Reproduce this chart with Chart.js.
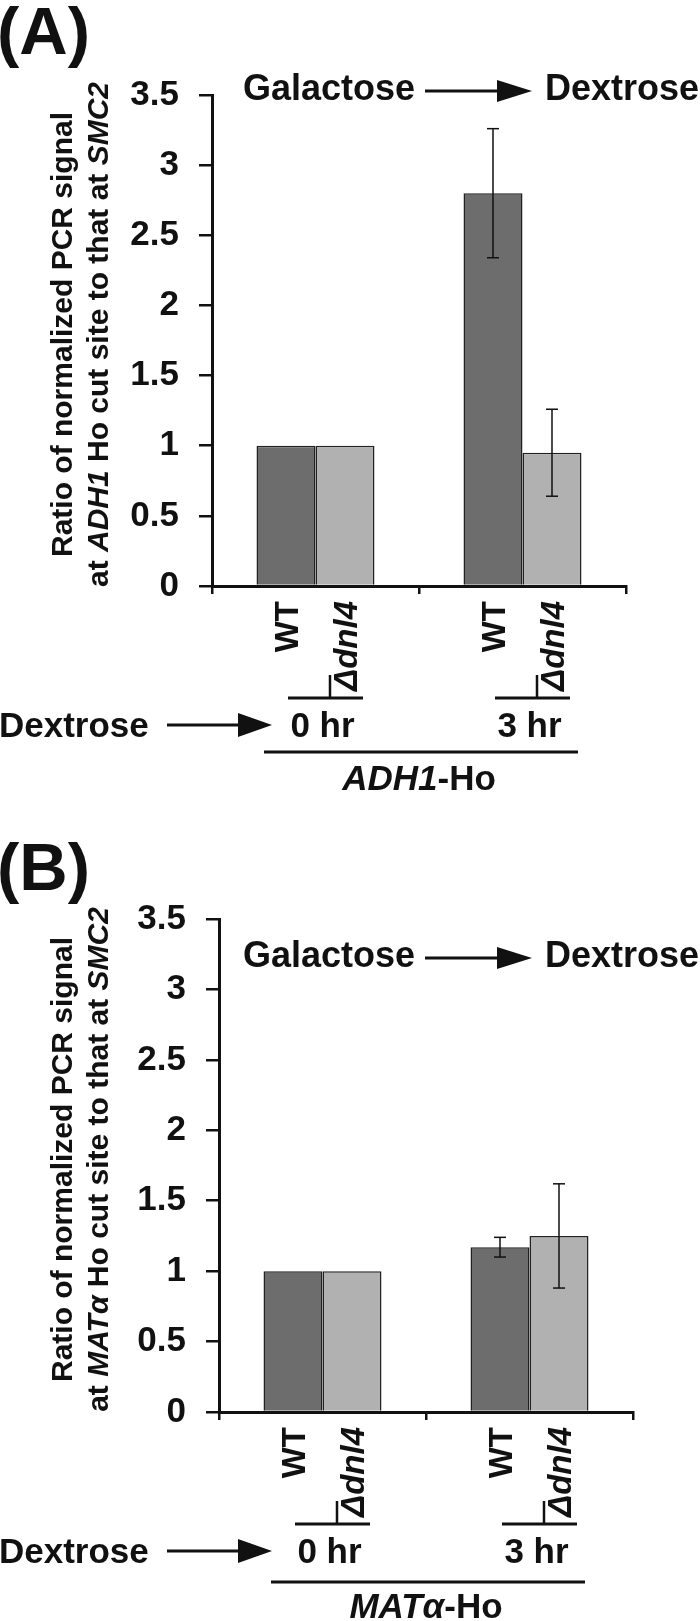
<!DOCTYPE html>
<html>
<head>
<meta charset="utf-8">
<script src="https://cdn.jsdelivr.net/npm/chart.js@4.4.1/dist/chart.umd.min.js"></script>
<style>
  body { margin: 0; background: #fff; }
  canvas { position: absolute; left: 0; }
</style>
</head>
<body>
<canvas id="panelA" width="700" height="810" style="top:0"></canvas>
<canvas id="panelB" width="700" height="811" style="top:810px"></canvas>
<script>
// ---- data ----
const timepoints = ['0 hr', '3 hr'];
const strains = ['WT', 'Δdnl4'];
const strainItalic = [false, true];
const yTickLabels = ['0', '0.5', '1', '1.5', '2', '2.5', '3', '3.5'];
const shiftFrom = 'Galactose';
const shiftTo = 'Dextrose';

const adhWT = [1, 2.8];
const adhWTErr = [0, 0.46];
const adhDnl4 = [1, 0.95];
const adhDnl4Err = [0, 0.31];

const matWT = [1, 1.17];
const matWTErr = [0, 0.07];
const matDnl4 = [1, 1.25];
const matDnl4Err = [0, 0.37];

const titleLine1 = [{ t: 'Ratio of normalized PCR signal' }];
const adhTitleLine2 = [{ t: 'at ' }, { t: 'ADH1', i: true }, { t: ' Ho cut site to that at ' }, { t: 'SMC2', i: true }];
const matTitleLine2 = [{ t: 'at ' }, { t: 'MATα', i: true }, { t: ' Ho cut site to that at ' }, { t: 'SMC2', i: true }];
const adhGene = [{ t: 'ADH1', i: true }, { t: '-Ho' }];
const matGene = [{ t: 'MATα', i: true }, { t: '-Ho' }];

const FONT = '"Liberation Sans", Arial, Helvetica, sans-serif';
const INK = '#111';
const DARK = '#6d6d6d';
const LIGHT = '#b1b1b1';

// ---- drawing helpers ----
function richWidth(ctx, parts, size) {
    let w = 0;
    parts.forEach(p => {
        ctx.font = (p.i ? 'italic ' : '') + 'bold ' + size + 'px ' + FONT;
        w += ctx.measureText(p.t).width;
    });
    return w;
}

// draws parts centred on x (in the current transform)
function drawRich(ctx, parts, x, y, size) {
    let cx = x - richWidth(ctx, parts, size) / 2;
    ctx.textAlign = 'left';
    parts.forEach(p => {
        ctx.font = (p.i ? 'italic ' : '') + 'bold ' + size + 'px ' + FONT;
        ctx.fillText(p.t, cx, y);
        cx += ctx.measureText(p.t).width;
    });
}

function arrow(ctx, x0, x1, y, headLen, headH) {
    ctx.lineWidth = 3;
    ctx.beginPath();
    ctx.moveTo(x0, y);
    ctx.lineTo(x1 - headLen + 2, y);
    ctx.stroke();
    ctx.beginPath();
    ctx.moveTo(x1 - headLen, y - headH / 2);
    ctx.lineTo(x1, y);
    ctx.lineTo(x1 - headLen, y + headH / 2);
    ctx.closePath();
    ctx.fill();
}

function hline(ctx, x0, x1, y, w) {
    ctx.lineWidth = w;
    ctx.beginPath();
    ctx.moveTo(x0, y);
    ctx.lineTo(x1, y);
    ctx.stroke();
}

function vline(ctx, x, y0, y1, w) {
    ctx.lineWidth = w;
    ctx.beginPath();
    ctx.moveTo(x, y0);
    ctx.lineTo(x, y1);
    ctx.stroke();
}

function makePanel(id, P) {
    const errors = [P.wtErr, P.dnErr];

    const deco = {
        id: 'deco',
        afterDatasetsDraw(chart) {
            const ctx = chart.ctx;
            const ys = chart.scales.y;
            ctx.save();
            ctx.strokeStyle = INK;
            chart.data.datasets.forEach((ds, d) => {
                chart.getDatasetMeta(d).data.forEach((bar, i) => {
                    const e = errors[d][i];
                    if (!e) return;
                    const top = ys.getPixelForValue(ds.data[i] + e);
                    const bot = ys.getPixelForValue(ds.data[i] - e);
                    vline(ctx, bar.x, top, bot, 1.5);
                    hline(ctx, bar.x - 6, bar.x + 6, top, 1.5);
                    hline(ctx, bar.x - 6, bar.x + 6, bot, 1.5);
                });
            });
            ctx.restore();
        },
        afterDraw(chart) {
            const ctx = chart.ctx;
            const xs = chart.scales.x;
            const ys = chart.scales.y;
            const base = ys.getPixelForValue(0);
            const mid = (chart.chartArea.top + chart.chartArea.bottom) / 2 - 6;
            const metas = [chart.getDatasetMeta(0), chart.getDatasetMeta(1)];
            ctx.save();
            ctx.fillStyle = INK;
            ctx.strokeStyle = INK;
            ctx.textBaseline = 'alphabetic';

            // panel letter
            ctx.textAlign = 'left';
            ctx.font = 'bold 67px ' + FONT;
            ctx.fillText(P.letter, -3, P.letterY);

            // medium shift header
            ctx.font = 'bold 36px ' + FONT;
            ctx.fillText(shiftFrom, 243, P.headY);
            arrow(ctx, 425, 532, P.headY - 9, 35, 22);
            ctx.font = 'bold 36px ' + FONT;
            ctx.textAlign = 'left';
            ctx.fillText(shiftTo, 545, P.headY);

            // y axis title, two rotated lines
            ctx.save();
            ctx.translate(72, mid);
            ctx.rotate(-Math.PI / 2);
            drawRich(ctx, titleLine1, 0, 0, 30);
            ctx.restore();
            ctx.save();
            ctx.translate(108, mid);
            ctx.rotate(-Math.PI / 2);
            drawRich(ctx, P.title2, 0, 0, 30);
            ctx.restore();

            // strain labels, brackets, time labels
            timepoints.forEach((tp, i) => {
                const wtX = metas[0].data[i].x;
                const dnX = metas[1].data[i].x;
                [wtX, dnX].forEach((bx, s) => {
                    ctx.save();
                    ctx.translate(bx + 12, base + 15);
                    ctx.rotate(-Math.PI / 2);
                    ctx.textAlign = 'right';
                    ctx.font = (strainItalic[s] ? 'italic ' : '') + 'bold 33px ' + FONT;
                    ctx.fillText(strains[s], 0, 0);
                    ctx.restore();
                });
                hline(ctx, wtX + 2, dnX + 18, base + 112, 3);
                vline(ctx, dnX - 15, base + 89, base + 112, 2.5);
                ctx.font = 'bold 35px ' + FONT;
                ctx.textAlign = 'center';
                ctx.fillText(tp, xs.getPixelForValue(i) + 7, base + 151);
            });

            // dextrose timing row
            ctx.textAlign = 'left';
            ctx.font = 'bold 35px ' + FONT;
            ctx.fillText(shiftTo, -1, base + 151);
            arrow(ctx, 167, 272, base + 139, 34, 24);

            // gene underline + name
            hline(ctx, metas[0].data[0].x - 22, metas[1].data[1].x + 26, base + P.lineDy, 3);
            const gx = (xs.getPixelForValue(0) + xs.getPixelForValue(1)) / 2;
            drawRich(ctx, P.gene, gx, base + P.geneDy, 35);
            ctx.restore();
        }
    };

    new Chart(document.getElementById(id), {
        type: 'bar',
        data: {
            labels: timepoints,
            datasets: [
                { label: strains[0], data: P.wt, backgroundColor: DARK, borderColor: '#222', borderWidth: 1.5 },
                { label: strains[1], data: P.dn, backgroundColor: LIGHT, borderColor: '#222', borderWidth: 1.5 }
            ]
        },
        options: {
            responsive: false,
            animation: false,
            devicePixelRatio: 1,
            categoryPercentage: 0.57,
            barPercentage: 1,
            layout: { padding: { top: P.top, right: 700 - P.right, left: 0, bottom: 0 } },
            plugins: { legend: { display: false }, tooltip: { enabled: false } },
            scales: {
                x: {
                    offset: true,
                    grid: { offset: true, drawOnChartArea: false, tickLength: 8, color: INK, lineWidth: 2.5 },
                    border: { color: INK, width: 3 },
                    ticks: { display: false },
                    afterFit: s => { s.height = P.height - P.bottom; }
                },
                y: {
                    min: 0,
                    max: 3.5,
                    grid: { drawOnChartArea: false, tickLength: 13, color: INK, lineWidth: 2.5 },
                    border: { color: INK, width: 3 },
                    ticks: {
                        stepSize: 0.5,
                        padding: 20,
                        color: INK,
                        font: { family: FONT, size: 35, weight: 'bold' },
                        callback: (v, i) => yTickLabels[i]
                    },
                    afterFit: s => { s.width = P.left; }
                }
            }
        },
        plugins: [deco]
    });
}

makePanel('panelA', {
    wt: adhWT, wtErr: adhWTErr, dn: adhDnl4, dnErr: adhDnl4Err,
    letter: '(A)', letterY: 54, headY: 100,
    title2: adhTitleLine2, gene: adhGene,
    top: 95, bottom: 586, left: 212, right: 626, height: 810,
    lineDy: 166, geneDy: 204
});

makePanel('panelB', {
    wt: matWT, wtErr: matWTErr, dn: matDnl4, dnErr: matDnl4Err,
    letter: '(B)', letterY: 80, headY: 157,
    title2: matTitleLine2, gene: matGene,
    top: 109, bottom: 602, left: 219, right: 633, height: 811,
    lineDy: 170, geneDy: 206
});
</script>
</body>
</html>
